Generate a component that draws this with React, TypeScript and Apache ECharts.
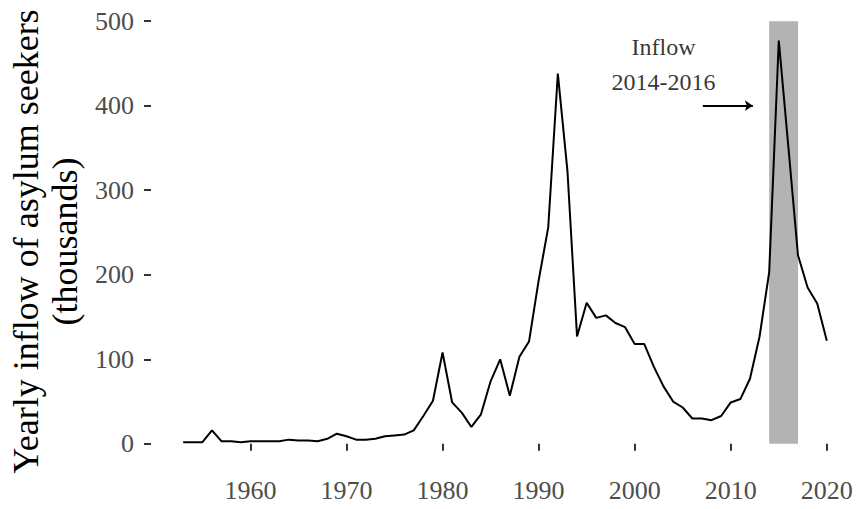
import React, { useEffect, useRef } from "react";
import * as echarts from "echarts";

const years: number[] = [];
for (let y = 1953; y <= 2020; y++) years.push(y);

const inflow: number[] = [
  2, 2, 2, 16, 3, 3, 2, 3, 3, 3, // 1953-1962
  3, 5, 4, 4, 3, 6, 12, 9, 5, 5, // 1963-1972
  6, 9, 10, 11, 16, 33, 51, 108, 49, 37, // 1973-1982
  20, 35, 74, 100, 57, 103, 121, 193, 256, 438, // 1983-1992
  323, 127, 167, 149, 152, 143, 138, 118, 118, 91, // 1993-2002
  68, 50, 43, 30, 30, 28, 33, 49, 53, 77, // 2003-2012
  127, 203, 477, 351, 223, 185, 166, 122, // 2013-2020
];

const xTicks = [1960, 1970, 1980, 1990, 2000, 2010, 2020];
const yTicks = [0, 100, 200, 300, 400, 500];

const highlightStart = 2014;
const highlightEnd = 2017;
const highlightTop = 500;

const annotationLines = ["Inflow", "2014-2016"];
const annotationX = 2003;
const annotationY = [469, 428.5];
const arrowFrom: [number, number] = [2007.1, 400];
const arrowTo: [number, number] = [2012.3, 400];

const yTitle = "Yearly inflow of asylum seekers\n(thousands)";

const SERIF = "'Liberation Serif', 'Times New Roman', serif";

export default function App() {
  const ref = useRef<HTMLDivElement>(null);

  useEffect(() => {
    if (!ref.current) return;
    const chart = echarts.init(ref.current, undefined, { renderer: "svg" });
    const lineData = years.map((y, i) => [y, inflow[i]]);
    chart.setOption({
      animation: false,
      backgroundColor: "#ffffff",
      grid: {
        left: 151,
        right: 2,
        top: 0,
        bottom: 44,
        containLabel: false,
        outerBoundsMode: "none",
      },
      xAxis: {
        type: "value",
        min: 1949.65,
        max: 2023.35,
        axisLine: { show: false },
        splitLine: { show: false },
        axisTick: {
          show: true,
          length: 7,
          customValues: xTicks,
          lineStyle: { color: "#333333", width: 2 },
        },
        axisLabel: {
          customValues: xTicks,
          margin: 12,
          fontFamily: SERIF,
          fontSize: 26,
          color: "#4D4D4D",
          formatter: (v: number) => String(v),
        },
      },
      yAxis: {
        type: "value",
        min: -25,
        max: 525,
        name: yTitle,
        nameLocation: "middle",
        nameRotate: 90,
        nameGap: 66,
        nameTextStyle: {
          fontFamily: SERIF,
          fontSize: 36,
          lineHeight: 39,
          color: "#000000",
          align: "center",
          padding: [0, 18, 0, 0],
        },
        axisLine: { show: false },
        splitLine: { show: false },
        axisTick: {
          show: true,
          length: 7,
          customValues: yTicks,
          lineStyle: { color: "#333333", width: 2 },
        },
        axisLabel: {
          customValues: yTicks,
          margin: 17,
          fontFamily: SERIF,
          fontSize: 26,
          color: "#4D4D4D",
        },
      },
      series: [
        {
          type: "line",
          data: [],
          z: 1,
          silent: true,
          markArea: {
            silent: true,
            itemStyle: { color: "#B3B3B3", opacity: 1 },
            data: [
              [
                { xAxis: highlightStart, yAxis: 0 },
                { xAxis: highlightEnd, yAxis: highlightTop },
              ],
            ],
          },
        },
        {
          type: "line",
          data: lineData,
          z: 3,
          showSymbol: false,
          symbol: "none",
          lineStyle: { color: "#000000", width: 2 },
        },
        {
          type: "lines",
          coordinateSystem: "cartesian2d",
          z: 4,
          symbol: ["none", "arrow"],
          symbolSize: 8,
          lineStyle: { color: "#000000", width: 2, opacity: 1 },
          data: [{ coords: [arrowFrom, arrowTo] }],
        },
        {
          type: "scatter",
          z: 5,
          symbol: "circle",
          symbolSize: 1,
          itemStyle: { color: "rgba(0,0,0,0)" },
          label: {
            show: true,
            position: "inside",
            formatter: "{b}",
            fontFamily: SERIF,
            fontSize: 24,
            color: "#000000",
          },
          data: annotationLines.map((t, i) => ({
            name: t,
            value: [annotationX, annotationY[i]],
          })),
        },
      ],
    });
    return () => chart.dispose();
  }, []);

  return (
    <div
      ref={ref}
      style={{ position: "fixed", left: 0, top: 0, width: 861, height: 509 }}
    />
  );
}
